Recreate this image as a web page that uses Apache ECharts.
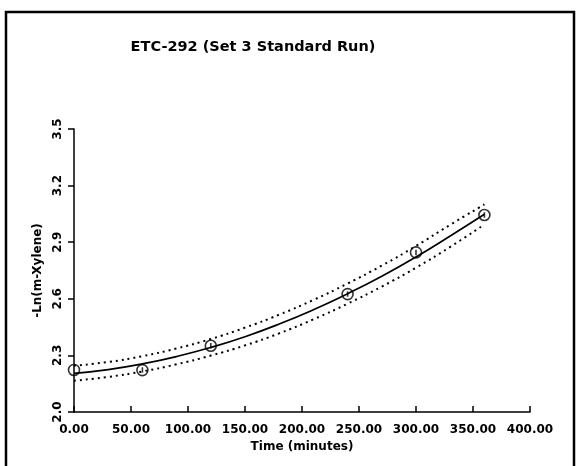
<!DOCTYPE html>
<html>
<head>
<meta charset="utf-8">
<script src="https://cdn.jsdelivr.net/npm/echarts@6/dist/echarts.min.js"></script>
<style>html,body{margin:0;padding:0;background:#fff}#c{width:578px;height:466px}</style>
</head>
<body>
<div id="c"></div>
<script>
// Observed data
const obsTime = [0, 60, 120, 240, 300, 360];
const obsValue = [2.223, 2.222, 2.351, 2.625, 2.846, 3.044];
// Fitted curve and bands
const fitTime  = [0, 30, 60, 90, 120, 150, 180, 210, 240, 270, 300, 330, 360];
const fitValue = [2.205, 2.225, 2.255, 2.294, 2.342, 2.399, 2.466, 2.542, 2.627, 2.720, 2.822, 2.933, 3.048];
const upperValue = [2.245, 2.265, 2.296, 2.337, 2.387, 2.447, 2.516, 2.594, 2.681, 2.776, 2.880, 2.992, 3.100];
const lowerValue = [2.166, 2.186, 2.215, 2.253, 2.299, 2.353, 2.417, 2.491, 2.574, 2.665, 2.765, 2.875, 2.994];
const xTicks = [0, 50, 100, 150, 200, 250, 300, 350, 400];
const yTicks = [2.0, 2.3, 2.6, 2.9, 3.2, 3.5];

const zip = (a, b) => a.map((v, i) => [v, b[i]]);
const FONT = 'DejaVu Sans';
const markerPath = 'path://M0,5 A5,5 0 1 1 10,5 A5,5 0 1 1 0,5 Z M5,2.5 L5,7.5';

const chart = echarts.init(document.getElementById('c'), null, {renderer: 'canvas'});
chart.setOption({
  backgroundColor: '#fff',
  animation: false,
  title: {
    text: 'ETC-292 (Set 3 Standard Run)',
    left: 248, top: 35, textAlign: 'center',
    textStyle: {fontFamily: FONT, fontSize: 14.5, fontWeight: 'bold', color: '#000'}
  },
  graphic: [{
    type: 'rect', silent: true,
    shape: {x: 6, y: 12, width: 568, height: 470},
    style: {fill: 'none', stroke: '#000', lineWidth: 2.5}
  }],
  grid: {left: 74, right: 48, top: 129, bottom: 54},
  xAxis: {
    type: 'value', min: 0, max: 400, interval: 50,
    name: 'Time (minutes)', nameLocation: 'middle', nameGap: 29,
    nameTextStyle: {fontFamily: FONT, fontSize: 12, fontWeight: 'bold', color: '#000'},
    axisLine: {onZero: false, lineStyle: {color: '#000', width: 1.5}},
    axisTick: {inside: true, length: 6, lineStyle: {color: '#000', width: 1.5}},
    axisLabel: {fontFamily: FONT, fontSize: 12, fontWeight: 'bold', color: '#000', margin: 12,
      formatter: v => v.toFixed(2)},
    splitLine: {show: false}
  },
  yAxis: {
    type: 'value', min: 2.0, max: 3.5, interval: 0.3,
    name: '-Ln(m-Xylene)', nameLocation: 'middle', nameGap: 29, nameRotate: 90,
    nameTextStyle: {fontFamily: FONT, fontSize: 12, fontWeight: 'bold', color: '#000'},
    axisLine: {onZero: false, lineStyle: {color: '#000', width: 1.5}},
    axisTick: {inside: false, length: 6, lineStyle: {color: '#000', width: 1.5}},
    axisLabel: {fontFamily: FONT, fontSize: 12, fontWeight: 'bold', color: '#000', rotate: 90, margin: 10,
      formatter: v => v.toFixed(1)},
    splitLine: {show: false}
  },
  series: [
    {type: 'line', data: zip(fitTime, fitValue), smooth: true, symbol: 'none',
     lineStyle: {color: '#000', width: 1.7}, z: 3},
    {type: 'line', data: zip(fitTime, upperValue), smooth: true, symbol: 'none',
     lineStyle: {color: '#000', width: 2, type: [2, 4]}, z: 2},
    {type: 'line', data: zip(fitTime, lowerValue), smooth: true, symbol: 'none',
     lineStyle: {color: '#000', width: 2, type: [2, 4]}, z: 2},
    {type: 'scatter', data: zip(obsTime, obsValue).map((d, i) => ({value: d, symbol: i === 0 ? 'circle' : markerPath})),
     symbolSize: 11,
     itemStyle: {color: 'rgba(0,0,0,0)', borderColor: '#000', borderWidth: 1.6}, z: 4}
  ]
});
</script>
</body>
</html>
